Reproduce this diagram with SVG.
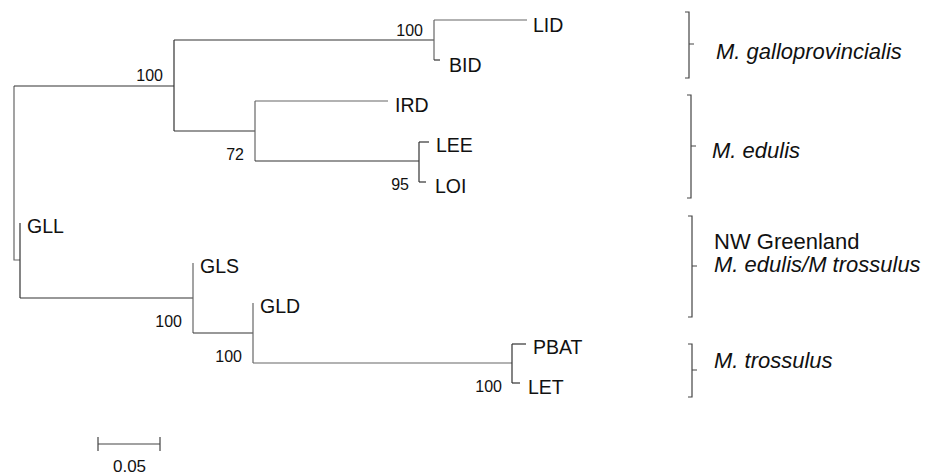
<svg xmlns="http://www.w3.org/2000/svg" width="935" height="476" viewBox="0 0 935 476">
<style>
.br{fill:none;stroke:#333;stroke-width:1.2}
.g{stroke:#666}
.tx{font-family:"Liberation Sans",Arial,sans-serif;font-size:19.5px;fill:#111}
.bs{font-family:"Liberation Sans",Arial,sans-serif;font-size:16px;fill:#111;text-anchor:end}
.cl{font-family:"Liberation Sans",Arial,sans-serif;font-size:22px;fill:#111}
.it{font-style:italic}
.bk{fill:none;stroke:#444;stroke-width:1.2}
</style>
<rect width="935" height="476" fill="#fff"/>
<g id="connectors">
<path class="br g" d="M14,86 V260 H20"/>
<path class="br" d="M14,86 H174"/>
<path class="br" d="M174,40 V131"/>
<path class="br" d="M174,40 H434"/>
<path class="br g" d="M434,20 V60"/>
<path class="br g" d="M434,20 H527"/>
<path class="br" d="M434,60 H440"/>
<path class="br" d="M174,131 H255"/>
<path class="br g" d="M255,101 V161"/>
<path class="br g" d="M255,101 H388"/>
<path class="br" d="M255,161 H419"/>
<path class="br" d="M419,142 V182"/>
<path class="br" d="M419,142 H429"/>
<path class="br" d="M419,182 H426"/>
<path class="br" d="M20,223 V298"/>
<path class="br" d="M20,298 H193"/>
<path class="br g" d="M193,263 V333"/>
<path class="br" d="M193,333 H253"/>
<path class="br g" d="M253,303 V363"/>
<path class="br g" d="M253,363 H512"/>
<path class="br" d="M512,344 V383"/>
<path class="br" d="M512,344 H526"/>
<path class="br" d="M512,383 H520"/>
</g>
<g id="n_root_gall_edulis"><text class="bs" x="163" y="81">100</text></g>
<g id="n_gall"><text class="bs" x="423" y="36">100</text></g>
<g id="n_edulis"><text class="bs" x="244" y="160">72</text></g>
<g id="n_lee_loi"><text class="bs" x="409" y="190">95</text></g>
<g id="n_gls"><text class="bs" x="182" y="327">100</text></g>
<g id="n_gld"><text class="bs" x="242" y="362">100</text></g>
<g id="n_trossulus"><text class="bs" x="502" y="392">100</text></g>
<g id="LID"><text class="tx" x="533" y="31.5">LID</text></g>
<g id="BID"><text class="tx" x="449" y="71.5">BID</text></g>
<g id="IRD"><text class="tx" x="395" y="111.5">IRD</text></g>
<g id="LEE"><text class="tx" x="436" y="152">LEE</text></g>
<g id="LOI"><text class="tx" x="435" y="192.5">LOI</text></g>
<g id="GLL"><text class="tx" x="27" y="233">GLL</text></g>
<g id="GLS"><text class="tx" x="200" y="273">GLS</text></g>
<g id="GLD"><text class="tx" x="260" y="313">GLD</text></g>
<g id="PBAT"><text class="tx" x="533" y="354">PBAT</text></g>
<g id="LET"><text class="tx" x="528" y="394">LET</text></g>
<g id="clade_galloprovincialis">
<path class="bk" d="M685,12 H689 V78 H685 M689,44 H694"/>
<text class="cl it" x="716" y="59">M. galloprovincialis</text>
</g>
<g id="clade_edulis">
<path class="bk" d="M687,95 H691 V198 H687 M691,146 H696"/>
<text class="cl it" x="712" y="158">M. edulis</text>
</g>
<g id="clade_greenland">
<path class="bk" d="M688,216 H692 V317 H688 M692,266 H697"/>
<text class="cl" x="714" y="249">NW Greenland</text>
<text class="cl it" x="714" y="272">M. edulis/M trossulus</text>
</g>
<g id="clade_trossulus">
<path class="bk" d="M688,344 H692 V397 H688 M692,370 H697"/>
<text class="cl it" x="714" y="368">M. trossulus</text>
</g>
<g id="scale">
<path class="bk" d="M98,444 H160 M98,437 V451 M160,437 V451"/>
<text class="bs" style="text-anchor:middle;font-size:17px" x="129.5" y="472">0.05</text>
</g>
</svg>
